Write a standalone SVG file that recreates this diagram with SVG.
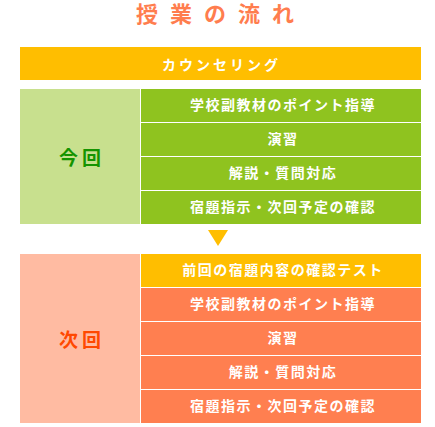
<svg xmlns="http://www.w3.org/2000/svg" width="435" height="427" viewBox="0 0 435 427">
<style>
text{font-family:"Noto Sans CJK JP","Noto Sans",sans-serif;font-weight:bold;}
.row{font-size:14px;fill:#ffffff;text-anchor:middle;letter-spacing:1.5px;}
.g{fill:#8fc31f;}
.o{fill:#ff7f50;}
.y{fill:#ffbe00;}
.lab{font-size:19px;text-anchor:middle;letter-spacing:4px;}
</style>
<rect width="435" height="427" fill="#ffffff"/>
<g id="title">
<text x="136" y="21.5" font-size="22" fill="#ff7d4e" letter-spacing="12">授業の流れ</text>
</g>
<g id="counseling">
<rect class="y" x="20" y="47" width="401" height="33"/>
<text class="row" x="221.5" y="69.5" style="letter-spacing:3px">カウンセリング</text>
</g>
<g id="konkai">
<rect x="20" y="89" width="120" height="135" fill="#c8e08e"/>
<text class="lab" x="82" y="164.5" fill="#159400">今回</text>
</g>
<g id="konkai-1">
<rect class="g" x="141" y="89" width="280" height="33"/>
<text class="row" x="283" y="110">学校副教材のポイント指導</text>
</g>
<g id="konkai-2">
<rect class="g" x="141" y="123" width="280" height="33"/>
<text class="row" x="283" y="144">演習</text>
</g>
<g id="konkai-3">
<rect class="g" x="141" y="157" width="280" height="33"/>
<text class="row" x="283" y="178">解説・質問対応</text>
</g>
<g id="konkai-4">
<rect class="g" x="141" y="191" width="280" height="33"/>
<text class="row" x="283" y="212">宿題指示・次回予定の確認</text>
</g>
<g id="connectors">
<polygon points="208,230 228,230 218,246" fill="#ffbe00"/>
</g>
<g id="jikai">
<rect x="20" y="254" width="120" height="169" fill="#ffbba2"/>
<text class="lab" x="82" y="346.5" fill="#ff4800">次回</text>
</g>
<g id="jikai-1">
<rect class="y" x="141" y="254" width="280" height="33"/>
<text class="row" x="283" y="275">前回の宿題内容の確認テスト</text>
</g>
<g id="jikai-2">
<rect class="o" x="141" y="288" width="280" height="33"/>
<text class="row" x="283" y="309">学校副教材のポイント指導</text>
</g>
<g id="jikai-3">
<rect class="o" x="141" y="322" width="280" height="33"/>
<text class="row" x="283" y="343">演習</text>
</g>
<g id="jikai-4">
<rect class="o" x="141" y="356" width="280" height="33"/>
<text class="row" x="283" y="377">解説・質問対応</text>
</g>
<g id="jikai-5">
<rect class="o" x="141" y="390" width="280" height="33"/>
<text class="row" x="283" y="411">宿題指示・次回予定の確認</text>
</g>
</svg>
